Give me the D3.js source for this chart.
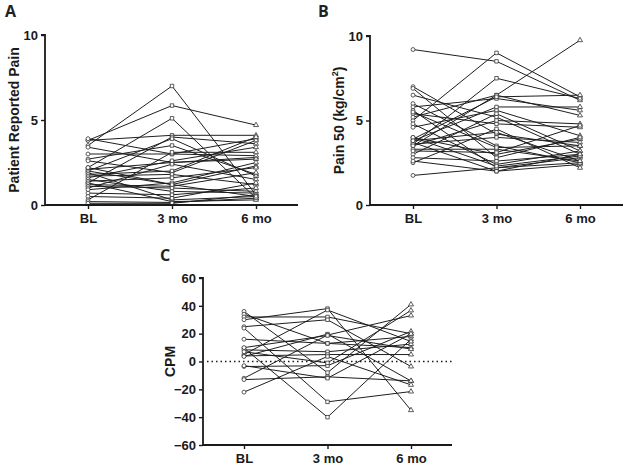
<!DOCTYPE html>
<html><head><meta charset="utf-8">
<script src="https://cdn.jsdelivr.net/npm/d3@7"></script>
<style>
html,body{margin:0;padding:0;background:#fff;}
svg{display:block;font-family:"Liberation Sans",Arial,sans-serif;}
</style></head>
<body>
<svg id="chart" width="629" height="470"></svg>
<script>
const categories = ["BL", "3 mo", "6 mo"];

// Panel A: Patient Reported Pain (BL, 3 mo, 6 mo) per subject
const painBL  = [3.5,3.8,2.2,3.8,3.9,1.3,3.4,3.0,2.7,2.6,2.1,2.0,2.0,1.9,1.8,1.7,1.6,1.5,1.4,1.3,1.2,1.1,1.0,0.9,0.7,0.5,0.3,0.2,0.1,2.2];
const pain3m  = [7.0,5.85,5.1,4.1,3.0,4.0,2.5,3.0,3.5,1.9,2.5,1.2,3.9,0.3,2.0,1.8,2.6,0.8,1.6,0.2,1.1,1.0,2.4,1.3,0.6,0.4,3.1,0.15,0.1,1.2];
const pain6m  = [0.6,4.7,0.4,4.1,3.9,3.6,2.8,2.9,1.8,3.8,2.7,2.3,1.7,0.5,4.0,1.2,3.4,0.7,2.2,0.3,1.9,0.8,1.5,2.5,1.0,1.3,3.1,0.4,0.6,0.5];
const painTicks = [0, 5, 10];

// Panel B: Pain 50 (kg/cm2)
const p50BL = [9.2,5.0,3.6,3.5,7.0,6.5,6.0,5.8,5.6,5.4,5.2,4.8,4.6,4.0,3.8,3.7,3.6,3.5,3.3,3.0,2.8,2.5,1.75,6.9,3.9,5.5,4.0,3.2,2.6,3.8];
const p503m = [8.5,9.0,7.5,6.5,4.2,5.2,3.5,6.3,2.2,4.8,6.5,2.4,5.6,3.0,5.8,2.0,4.0,5.0,3.3,5.4,2.6,4.5,2.2,2.8,6.4,3.4,2.3,3.1,2.0,4.3];
const p506m = [6.2,6.4,6.3,9.75,3.5,3.0,2.5,5.6,2.8,4.6,5.3,3.2,4.1,3.9,5.8,2.4,3.7,4.8,2.6,3.2,3.0,2.2,2.5,4.0,6.5,3.5,2.9,4.7,3.0,2.6];
const p50Ticks = [0, 5, 10];

// Panel C: CPM
const cpmBL = [36,34,32,30,25,24,16,9.6,8.4,5,4,3.6,-3.6,-12,-13,-22,7,10,-3];
const cpm3m = [-8,13,32,38,30,-29,13,-40,7,37,5,19.7,-3,19,-11,3.6,-1,18.7,-12];
const cpm6m = [41,18,20,-35,-3.6,-21.6,10,16,12.5,14.4,5,-14,21.6,33,-13.9,-16.8,36.7,8.9,19.9];
const cpmTicks = [-60,-40,-20,0,20,40,60];

const svg = d3.select("#chart");
const ink = "#1a1a1a";
const FONT = "'Liberation Sans', Arial, sans-serif";

function panel(opt){
  const g = svg.append("g");
  const x = d3.scalePoint().domain(categories).range([opt.x0 + opt.pad0, opt.x1 - opt.pad1]);
  const y = d3.scaleLinear().domain(opt.domain).range([opt.yb, opt.yt]);
  const series = [opt.s0, opt.s1, opt.s2];
  const subjects = opt.s0.map((_, i) => series.map((s, j) => ({c: categories[j], v: s[i]})));
  const line = d3.line().x(d => x(d.c)).y(d => y(d.v));

  if (opt.zeroLine) {
    g.append("line").attr("x1", opt.x0 + 4).attr("x2", opt.x1).attr("y1", y(0)).attr("y2", y(0))
      .attr("stroke", ink).attr("stroke-width", 1.5).attr("stroke-dasharray", "1.5,3");
  }

  g.selectAll("path.subj").data(subjects).enter().append("path")
    .attr("class","subj").attr("d", line).attr("fill","none")
    .attr("stroke", "#1e1e1e").attr("stroke-width", 1.0);

  const sym = [d3.symbolCircle, d3.symbolSquare, d3.symbolTriangle];
  const sizes = [12, 12, 11];
  categories.forEach((c, j) => {
    g.selectAll(null).data(series[j]).enter().append("path")
      .attr("transform", v => `translate(${x(c)},${y(v)})`)
      .attr("d", d3.symbol().type(sym[j]).size(sizes[j]))
      .attr("fill", "#fff").attr("stroke", "#333").attr("stroke-width", 0.8);
  });

  // axes
  const yAxis = d3.axisLeft(y).tickValues(opt.ticks).tickSize(4).tickPadding(3).tickFormat(d3.format("d"));
  const ya = g.append("g").attr("transform", `translate(${opt.x0},0)`).call(yAxis);
  const xAxis = d3.axisBottom(x).tickSize(4).tickPadding(5);
  const xa = g.append("g").attr("transform", `translate(0,${opt.yb})`).call(xAxis);
  [ya, xa].forEach(a => {
    a.attr("font-family", FONT);
    a.select(".domain").attr("stroke", ink).attr("stroke-width", 1.8);
    a.selectAll(".tick line").attr("stroke", ink).attr("stroke-width", 1.4);
    a.selectAll(".tick text").attr("fill", ink).attr("font-size", 13).attr("font-weight", "bold")
      .attr("font-family", FONT);
  });
  ya.select(".domain").attr("d", `M-4,${opt.yt}H0V${opt.yb}`);
  xa.select(".domain").attr("d", `M${opt.x0},0H${opt.x1}`);

  // y label
  const lab = g.append("text")
    .attr("transform", `translate(${opt.labX},${(opt.yt + opt.yb) / 2}) rotate(-90)`)
    .attr("text-anchor", "middle").attr("font-size", 14).attr("font-weight", "bold").attr("fill", ink)
    .attr("font-family", FONT);
  opt.label(lab);

  g.append("text").attr("x", opt.letterX).attr("y", opt.letterY).text(opt.letter)
    .attr("font-size", 16).attr("font-weight", "bold").attr("fill", "#222")
    .attr("font-family", "'Open Sans','DejaVu Sans',sans-serif");
}

panel({x0:45, x1:298, pad0:43, pad1:42, yt:35, yb:205, domain:[0,10], ticks:painTicks,
  s0:painBL, s1:pain3m, s2:pain6m, labX:19, letter:"A", letterX:5, letterY:17,
  label: t => t.text("Patient Reported Pain")});

panel({x0:370, x1:623, pad0:43, pad1:43, yt:36, yb:205, domain:[0,10], ticks:p50Ticks,
  s0:p50BL, s1:p503m, s2:p506m, labX:344, letter:"B", letterX:318, letterY:17,
  label: t => { t.append("tspan").text("Pain 50 (kg/cm");
    t.append("tspan").attr("dy", -6).attr("font-size", 9).text("2");
    t.append("tspan").attr("dy", 6).text(")"); }});

panel({x0:203, x1:452, pad0:41, pad1:41, yt:278, yb:445, domain:[-60,60], ticks:cpmTicks,
  s0:cpmBL, s1:cpm3m, s2:cpm6m, labX:175, letter:"C", letterX:160, letterY:261, zeroLine:true,
  label: t => t.text("CPM")});
</script>
</body></html>
